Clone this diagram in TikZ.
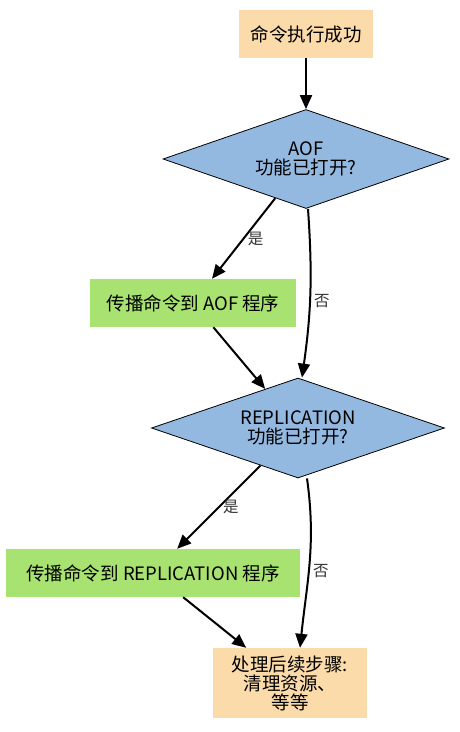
\documentclass[tikz,border=0pt]{standalone}
\usepackage{fontspec}
\setmainfont{Noto Sans CJK SC}
\usepackage{xcolor}
\definecolor{stepBack}  {HTML}{FADBA9}
\definecolor{askBack}   {HTML}{94B9E0}
\definecolor{sendBack}  {HTML}{A8E271}
\definecolor{labelInk}  {HTML}{333333}
\usetikzlibrary{arrows.meta, shapes.geometric}

\begin{document}
\begin{tikzpicture}[
    x=1pt, y=-1pt,
    every node/.style={font=\fontsize{18.5}{19}\selectfont},
    stepbox/.style={fill=stepBack, align=center, inner sep=0pt},
    sendbox/.style={fill=sendBack, align=center, inner sep=0pt,
                    minimum height=48pt},
    askbox/.style={diamond, aspect=3, draw, fill=askBack, align=center,
                   inner sep=0pt, line width=0.8pt},
    arr/.style={-{Triangle[length=14pt, width=12pt]}, line width=2pt},
    lbl/.style={font=\fontsize{15.5}{16}\selectfont, text=labelInk, right}
]
\useasboundingbox (0,0) rectangle (460,732);
% start at top
\node[stepbox, minimum width=134pt, minimum height=48pt] (start) at (306,34) {命令执行成功};
% first question
\node[askbox, minimum width=286pt, minimum height=99pt] (aof) at (306,159) {AOF\\功能已打开?};
\node[sendbox, minimum width=206pt] (aofprog) at (193,303) {传播命令到 AOF 程序};
% second question
\node[askbox, minimum width=293pt, minimum height=100pt] (repl) at (298,428) {REPLICATION\\功能已打开?};
\node[sendbox, minimum width=294pt] (replprog) at (153,573) {传播命令到 REPLICATION 程序};
% end
\node[stepbox, minimum width=154pt, minimum height=70pt] (finish) at (290,683) {处理后续步骤:\\清理资源、\\等等};
% connectors
\draw[arr] (start) -- (aof);
\draw[arr] (aof) -- node[lbl, pos=0.5] {是} (aofprog);
\draw[arr] ([xshift=2pt]aof.south) to[bend left=6] node[lbl, pos=0.55] {否} ([xshift=4pt]repl.north);
\draw[arr] (aofprog) -- (repl);
\draw[arr] (repl) -- node[lbl, pos=0.5] {是} (replprog);
\draw[arr] ([xshift=9pt]repl.south) to[out=-82, in=84] node[lbl, pos=0.55] {否} ([xshift=10pt]finish.north);
\draw[arr] (replprog) -- (finish);
\end{tikzpicture}
\end{document}
